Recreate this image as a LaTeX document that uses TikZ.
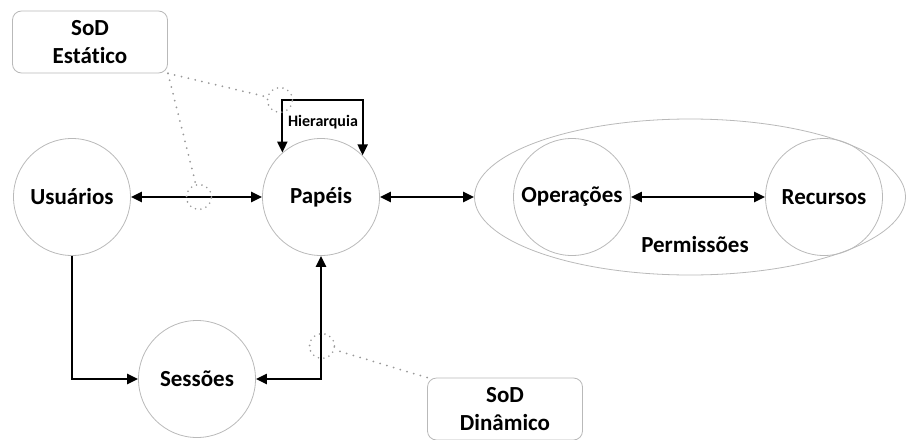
\documentclass[tikz,border=0pt]{standalone}
\usepackage{fontspec}
\setmainfont{Carlito}[Ligatures={NoCommon,NoContextual}]
\usetikzlibrary{arrows.meta,shapes.geometric}
\begin{document}
\begin{tikzpicture}[x=1pt,y=-1pt,
 ent/.style={circle,draw=gray!55,line width=0.8pt,minimum size=117pt,inner sep=0pt,font=\fontsize{23}{27}\selectfont\bfseries},
 sod/.style={rectangle,rounded corners=9pt,draw=gray!55,line width=0.8pt,minimum width=155pt,minimum height=62pt,inner sep=0pt,align=center,font=\fontsize{23}{28}\selectfont\bfseries},
 arr/.style={line width=2.2pt,{Triangle[length=11pt,width=10pt]}-{Triangle[length=11pt,width=10pt]}},
 onearr/.style={line width=2.2pt,-{Triangle[length=11pt,width=10pt]}},
 spot/.style={circle,draw=gray!80,line width=1.8pt,line cap=round,dash pattern=on 0pt off 5.5pt,minimum size=25pt,inner sep=0pt},
 dots/.style={draw=gray!80,line width=2pt,line cap=round,dash pattern=on 0pt off 7pt}]
\useasboundingbox (0,0) rectangle (907,439);

% entities
\node[ent] (usu) at (72,197) {Usuários};
\node[ent] (pap) at (321,197) {Papéis};
\node[ent] (ses) at (197,379) {Sessões};
\node[ellipse,draw=gray!55,line width=0.8pt,minimum width=431pt,minimum height=156pt,inner sep=0pt] (perm) at (690,197) {};
\node[ent] (ope) at (572,197) {Operações};
\node[ent] (rec) at (824,197) {Recursos};
\node[font=\fontsize{23}{27}\selectfont\bfseries] (permlbl) at (695,245) {Permissões};

% SoD boxes
\node[sod] (est) at (90,42) {SoD\\Estático};
\node[sod] (din) at (505,409) {SoD\\Dinâmico};

% hierarchy loop
\coordinate (ht) at (322,100);
\draw[arr] (pap.131) |- (ht) -| (pap.45);
\node[font=\fontsize{16}{18}\selectfont\bfseries] (hier) at (323,122) {Hierarquia};

% connectors
\draw[arr] (usu) -- (pap);
\draw[arr] (pap.east) -- (perm.west);
\draw[arr] (ope) -- (rec);
\draw[onearr] (usu.south) |- (ses.west);
\draw[arr] (ses.east) -| (pap.south);

% SoD markers
\node[spot] (d1) at (280,100) {};
\node[spot] (d2) at (199,197) {};
\node[spot] (d3) at (322,346) {};
\draw[dots] (est.south east) -- (d1);
\draw[dots] (est.south east) -- (d2);
\draw[dots] (din.north west) -- (d3);
\end{tikzpicture}
\end{document}
